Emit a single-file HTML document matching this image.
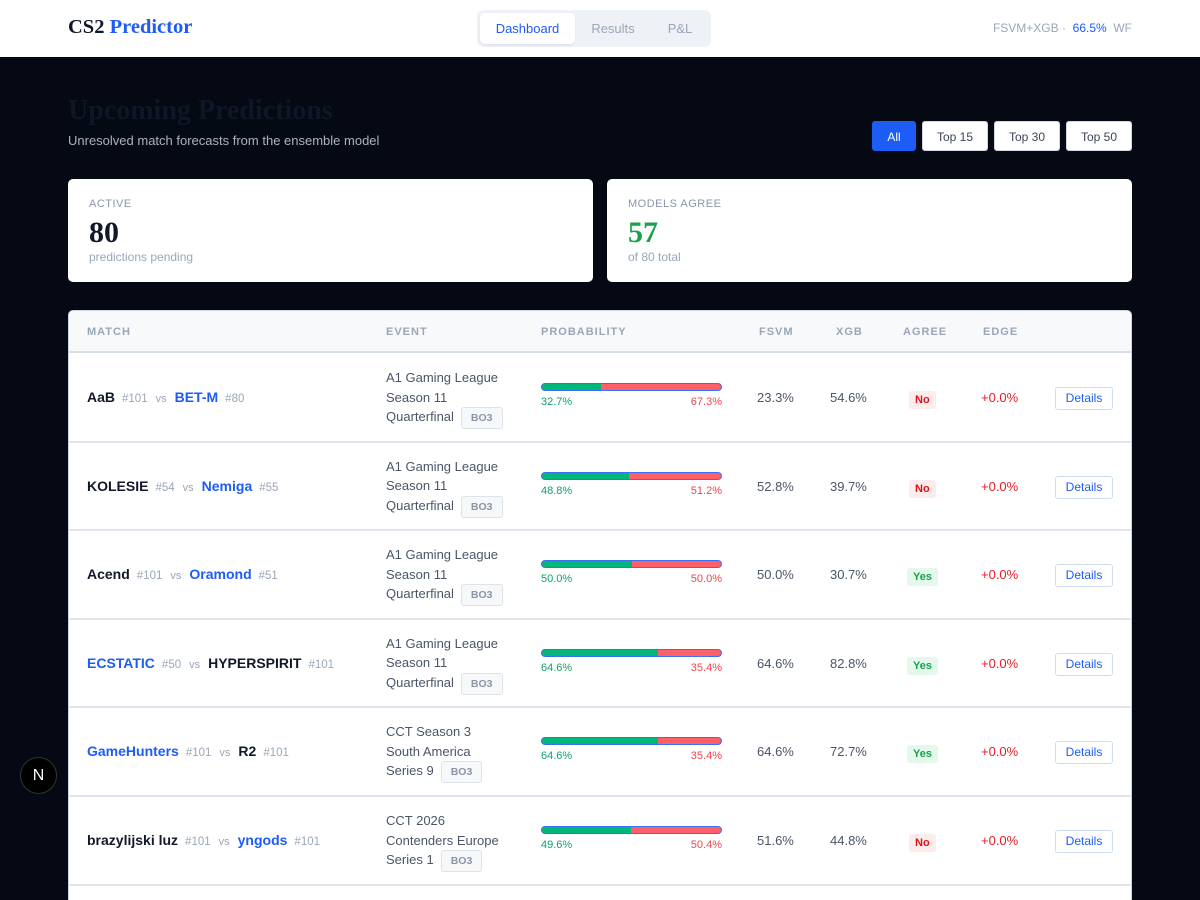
<!DOCTYPE html>
<html style="width:1200px;height:900px;overflow:hidden"><head><meta charset="utf-8">
<style>
*{box-sizing:border-box;margin:0;padding:0}
body{width:1200px;height:900px;overflow:hidden;background:#050914;font-family:"Liberation Sans",sans-serif;position:relative}
.abs{position:absolute}
.header{left:0;top:0;width:1200px;height:57px;background:#fff}
.logo{left:68px;top:16px;font-family:"Liberation Serif",serif;font-weight:bold;font-size:20.5px;color:#111827}
.logo span{color:#1d5cf5}
.tabs{left:477px;top:10px;width:234px;height:37px;background:#eef2f7;border-radius:7px}
.tab{top:3px;height:31px;line-height:31px;font-size:13px;color:#9aa6b8;text-align:center}
.tab.on{background:#fff;color:#1d5cf5;border-radius:5px;box-shadow:0 1px 2px rgba(0,0,0,.08)}
.meta{right:68px;top:21px;font-size:12px;color:#9aa6b8}
.meta b{font-weight:normal;color:#1d5cf5}
h1{left:68px;top:95px;font-family:"Liberation Serif",serif;font-size:28px;font-weight:bold;color:#0f1626}
.sub{left:68px;top:133px;font-size:13px;color:#a9b2c2}
.fb{top:121px;height:30px;line-height:30px;font-size:12px;background:#fff;color:#3a4556;text-align:center;border-radius:3px;border:1px solid #d3d9e2}
.fb.on{background:#1d5cf5;color:#fff;border-color:#1d5cf5}
.card{top:179px;height:103px;background:#fff;border-radius:5px}
.cl{left:21px;top:19px;font-size:11px;color:#8a96a8;letter-spacing:.5px}
.cv{left:21px;top:37px;font-family:"Liberation Serif",serif;font-weight:bold;font-size:30px;color:#111827}
.cs{left:21px;top:71px;font-size:12px;color:#9aa6b8}
.table{left:68px;top:310px;width:1064px;height:590px;background:#fff;border-radius:5px 5px 0 0;border:1px solid #cfd6e0;border-bottom:none;overflow:hidden}
.th{left:0;top:0;width:1064px;height:42px;background:#f7f9fb;border-bottom:2px solid #d8dfe8}
.hc{top:15px;font-size:11px;font-weight:bold;color:#9aa6b8;letter-spacing:1px}
.row{left:0;width:1064px;border-bottom:2px solid #e1e6ee}
.team{font-size:14px;font-weight:bold;color:#111827}
.team.fav{color:#1d5cf5}
.rk{font-size:11.5px;color:#9aa6b8;margin:0 8px 0 7px}
.vs{font-size:11px;color:#9aa6b8;margin-right:8px}
.ev{font-size:13px;color:#4a5568;line-height:19.5px}
.bo{display:inline-block;font-size:10.5px;font-weight:bold;color:#8a96a8;background:#f6f8fa;border:1px solid #dde3ea;border-radius:3px;padding:4px 9px;margin-left:7px;line-height:12px}
.num{font-size:13px;color:#4a5568}
.ag{font-size:11px;font-weight:bold;padding:3px 6px;border-radius:3px}
.ag.no{background:#fdecec;color:#e0101b}
.ag.yes{background:#e5f8ec;color:#15a34a}
.edge{font-size:13px;color:#e51d2a}
.det{width:58px;height:23px;line-height:21px;text-align:center;font-size:12px;color:#1d5cf5;border:1px solid #cfdcf5;border-radius:3px;background:#fff}
.n{left:20px;top:757px;width:37px;height:37px;border-radius:50%;background:#000;border:1px solid #333;color:#fff;text-align:center;line-height:35px;font-size:16px}
</style></head><body>
<div class="abs header">
  <div class="abs logo">CS2 <span>Predictor</span></div>
  <div class="abs tabs">
    <div class="abs tab on" style="left:3px;width:95px">Dashboard</div>
    <div class="abs tab" style="left:100px;width:72px">Results</div>
    <div class="abs tab" style="left:172px;width:62px">P&amp;L</div>
  </div>
  <div class="abs meta">FSVM+XGB · &nbsp;<b>66.5%</b>&nbsp; WF</div>
</div>
<h1 class="abs">Upcoming Predictions</h1>
<div class="abs sub">Unresolved match forecasts from the ensemble model</div>
<div class="abs fb on" style="left:872px;width:44px">All</div>
<div class="abs fb" style="left:922px;width:66px">Top 15</div>
<div class="abs fb" style="left:994px;width:66px">Top 30</div>
<div class="abs fb" style="left:1066px;width:66px">Top 50</div>
<div class="abs card" style="left:68px;width:525px">
  <div class="abs cl">ACTIVE</div><div class="abs cv">80</div><div class="abs cs">predictions pending</div>
</div>
<div class="abs card" style="left:607px;width:525px">
  <div class="abs cl">MODELS AGREE</div><div class="abs cv" style="color:#16a34a">57</div><div class="abs cs">of 80 total</div>
</div>
<div class="abs table" id="tbl">
  <div class="abs th">
    <div class="abs hc" style="left:18px">MATCH</div>
    <div class="abs hc" style="left:317px">EVENT</div>
    <div class="abs hc" style="left:472px">PROBABILITY</div>
    <div class="abs hc" style="left:690px">FSVM</div>
    <div class="abs hc" style="left:767px">XGB</div>
    <div class="abs hc" style="left:834px">AGREE</div>
    <div class="abs hc" style="left:914px">EDGE</div>
  </div>
</div>
<div class="abs n">N</div>
<script>
const teamA=["AaB","KOLESIE","Acend","ECSTATIC","GameHunters","brazylijski luz"];
const rankA=[101,54,101,50,101,101];
const teamB=["BET-M","Nemiga","Oramond","HYPERSPIRIT","R2","yngods"];
const rankB=[80,55,51,101,101,101];
const favA=[false,false,false,true,true,false];
const events=[["A1 Gaming League","Season 11","Quarterfinal"],["A1 Gaming League","Season 11","Quarterfinal"],["A1 Gaming League","Season 11","Quarterfinal"],["A1 Gaming League","Season 11","Quarterfinal"],["CCT Season 3","South America","Series 9"],["CCT 2026","Contenders Europe","Series 1"]];
const bestOf=["BO3","BO3","BO3","BO3","BO3","BO3"];
const probA=[32.7,48.8,50.0,64.6,64.6,49.6];
const fsvm=[23.3,52.8,50.0,64.6,64.6,51.6];
const xgb=[54.6,39.7,30.7,82.8,72.7,44.8];
const agree=[false,false,true,true,true,false];
const edge=[0.0,0.0,0.0,0.0,0.0,0.0];

const tbl=document.getElementById('tbl');
const rowTop=43, rowH=88.6, barW=181;
function pct(v){return v.toFixed(1)+'%';}
teamA.forEach((a,i)=>{
  const r=document.createElement('div');
  r.className='abs row';
  r.style.top=(rowTop+i*rowH)+'px';r.style.height=rowH+'px';
  
  
  const fa=favA[i]?' fav':'', fb=favA[i]?'':' fav';
  r.innerHTML=
   `<div class="abs" style="left:18px;top:35px;white-space:nowrap"><span class="team${fa}">${a}</span><span class="rk">#${rankA[i]}</span><span class="vs">vs</span><span class="team${fb}">${teamB[i]}</span><span class="rk">#${rankB[i]}</span></div>`+
   `<div class="abs ev" style="left:317px;top:14px">${events[i][0]}<br>${events[i][1]}<br>${events[i][2]}<span class="bo">${bestOf[i]}</span></div>`+
   `<div class="abs" style="left:472px;top:29px;width:${barW}px;height:8px;border-radius:4px;border:1px solid #3b6ff5;overflow:hidden;background:#ff6068"><div style="width:${probA[i]}%;height:100%;background:#00b77a"></div></div>`+
   `<div class="abs" style="left:472px;top:42px;font-size:11px;color:#12a06a">${pct(probA[i])}</div>`+
   `<div class="abs" style="left:${472+barW-40}px;width:40px;text-align:right;top:42px;font-size:11px;color:#f0444f">${pct(100-probA[i])}</div>`+
   `<div class="abs num" style="left:688px;top:36px">${pct(fsvm[i])}</div>`+
   `<div class="abs num" style="left:761px;top:36px">${pct(xgb[i])}</div>`+
   `<div class="abs" style="left:${agree[i]?838:840}px;top:36px"><span class="ag ${agree[i]?'yes':'no'}">${agree[i]?'Yes':'No'}</span></div>`+
   `<div class="abs edge" style="left:912px;top:36px">+${edge[i].toFixed(1)}%</div>`+
   `<div class="abs det" style="left:986px;top:33px">Details</div>`;
  tbl.appendChild(r);
});
</script>
</body></html>
